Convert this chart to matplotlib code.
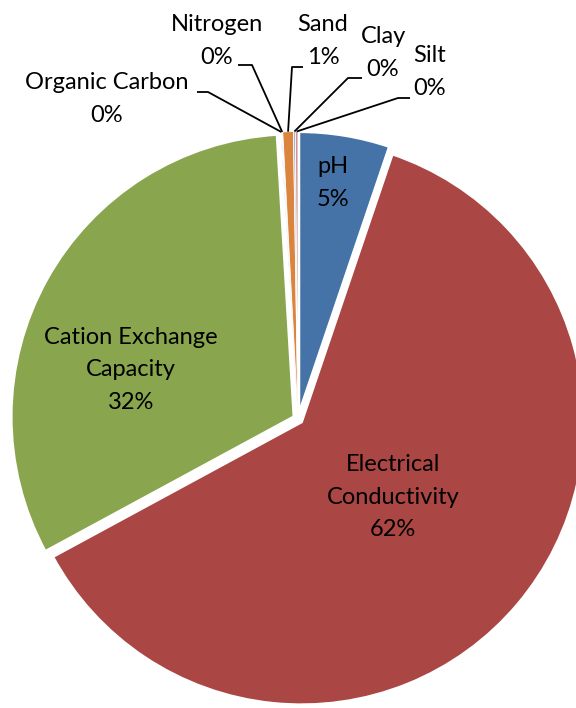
import numpy as np
import matplotlib
matplotlib.use("Agg")
import matplotlib.pyplot as plt

# slice data, clockwise from 12 o'clock
names = ["pH", "Electrical Conductivity", "Cation Exchange Capacity",
         "Organic Carbon", "Nitrogen", "Sand", "Clay", "Silt"]
label_names = ["pH", "Electrical\nConductivity", "Cation Exchange\nCapacity",
               "Organic Carbon", "Nitrogen", "Sand", "Clay", "Silt"]
values = [5.2, 61.9, 31.95, 0.05, 0.05, 0.6, 0.1, 0.15]
colors = ["#4572A7", "#AA4643", "#89A54E", "#71588F",
          "#4198AF", "#DB843D", "#93A9CF", "#D19392"]

W, H = 576, 708
CX, CY, R = 298, H - 419, 283

plt.rcParams["font.family"] = ["Lato", "DejaVu Sans"]
fig = plt.figure(figsize=(W / 100, H / 100), dpi=100)
ax = fig.add_axes([0, 0, 1, 1])

# explode is in data units (= pixels here)
wedges, _ = ax.pie(values, colors=colors, startangle=90, counterclock=False,
                   center=(CX, CY), radius=R, explode=[4.5] * len(values),
                   wedgeprops=dict(edgecolor="white", linewidth=2.2))
for w in wedges[3:]:
    w.set_linewidth(0.6)
ax.set_xlim(0, W)
ax.set_ylim(0, H)
ax.set_aspect("equal")
ax.axis("off")

total = sum(values)
pcts = [f"{int(v / total * 100 + 0.5)}%" for v in values]

# label layout in pixels from top-left
inside = {0: (333, 183), 1: (393, 497), 2: (131, 370)}
outside = {
    3: ((107, 99), (197, 92), (208, 92)),
    4: ((217, 41), (238, 65), (252, 65)),
    5: ((323, 41), (303, 67), (292, 67)),
    6: ((383, 53), (362, 78), (348, 78)),
    7: ((430, 72), (410, 98), (398, 98)),
}

fs = 17
ls = 1.68
for i, (x, y) in inside.items():
    ax.text(x, H - y, f"{label_names[i]}\n{pcts[i]}", ha="center", va="center",
            multialignment="center", fontsize=fs, linespacing=ls, color="black")

for i, ((tx, ty), (x0, y0), (x1, y1)) in outside.items():
    ax.text(tx, H - ty, f"{label_names[i]}\n{pcts[i]}", ha="center", va="center",
            multialignment="center", fontsize=fs, linespacing=ls, color="black")
    w = wedges[i]
    mid = np.deg2rad((w.theta1 + w.theta2) / 2)
    ex = w.center[0] + w.r * np.cos(mid)
    ey = w.center[1] + w.r * np.sin(mid)
    ax.plot([x0, x1, ex], [H - y0, H - y1, ey], color="black", lw=1.3,
            solid_capstyle="butt")

fig.savefig("out.png", dpi=100)
